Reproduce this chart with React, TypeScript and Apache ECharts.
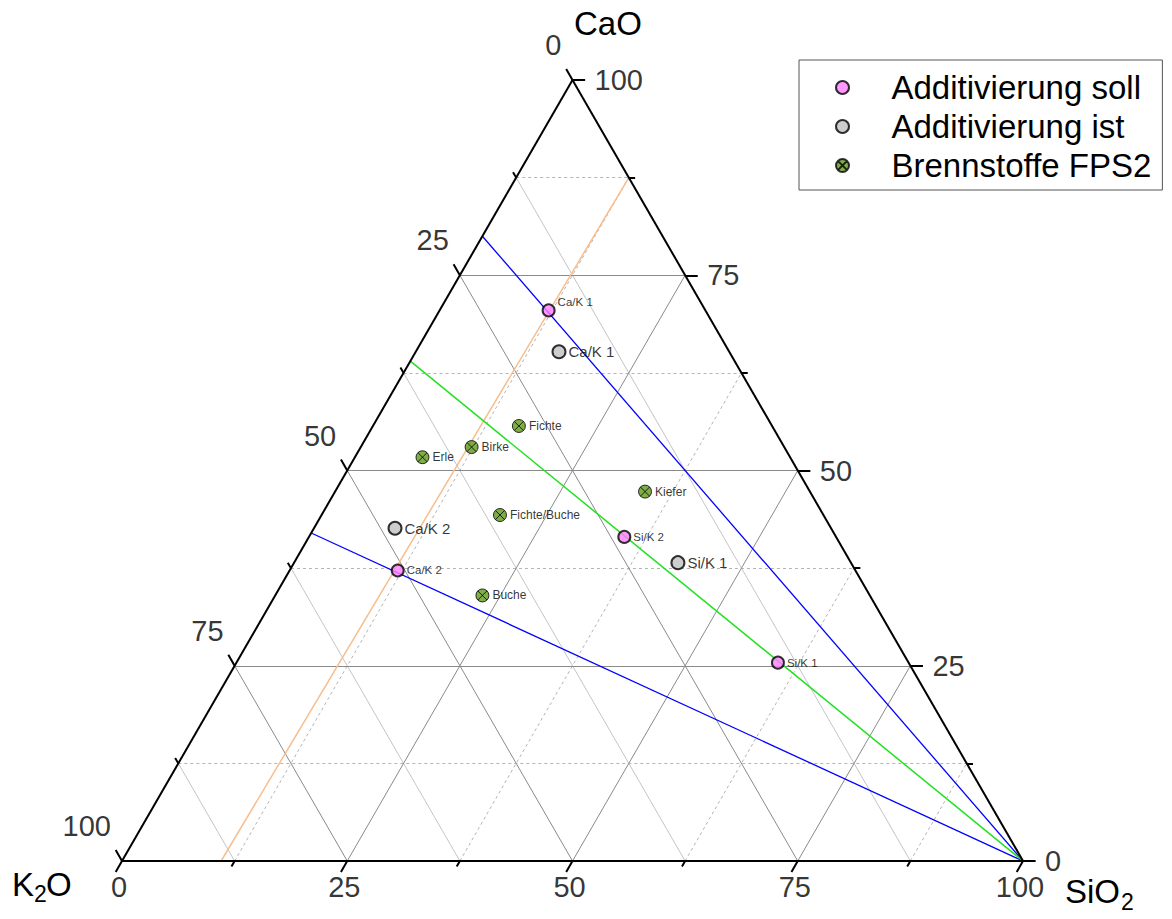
import React, { useEffect, useRef } from "react";
import * as echarts from "echarts";

// ---- data (values in %) ----
const majorValues = [0, 25, 50, 75, 100];
const majorLabels = ["0", "25", "50", "75", "100"];
const minorValues = [12.5, 37.5, 62.5, 87.5];
const innerMajor = [25, 50, 75];

const sollNames = ["Ca/K 1", "Ca/K 2", "Si/K 2", "Si/K 1"];
const sollSiO2 = [12.1, 12.0, 35.0, 60.1];
const sollCaO = [70.5, 37.2, 41.5, 25.4];
const sollK2O = [17.4, 50.8, 23.5, 14.5];

const istNames = ["Ca/K 1", "Ca/K 2", "Si/K 1"];
const istSiO2 = [15.9, 9.0, 42.6];
const istCaO = [65.2, 42.6, 38.2];
const istK2O = [18.9, 48.4, 19.2];

const fuelNames = ["Fichte", "Birke", "Erle", "Fichte/Buche", "Buche", "Kiefer"];
const fuelSiO2 = [16.2, 12.3, 7.5, 19.8, 23.0, 34.4];
const fuelCaO = [55.7, 53.0, 51.7, 44.3, 34.0, 47.3];
const fuelK2O = [28.1, 34.7, 40.8, 35.9, 43.0, 18.3];

// reference lines: endpoints as [SiO2, CaO]
const orangeLine = [[11.0, 0], [12.5, 87.5]];
const blueLine1 = [[100, 0], [0, 80]];
const blueLine2 = [[100, 0], [0, 42]];
const greenLine = [[100, 0], [0, 64]];

const FONT = "Liberation Sans, Arial, Helvetica, sans-serif";

// ternary (SiO2, CaO) -> cartesian (x = SiO2 + CaO/2, y = CaO)
const tern = (s: number, c: number) => [s + c / 2, c];
const pos = (s: number, c: number, k: number) => {
  const t = s + c + k;
  return tern((s / t) * 100, (c / t) * 100);
};
const seg = (a: number[], b: number[]) => ({ coords: [tern(a[0], a[1]), tern(b[0], b[1])] });

const caoLine = (v: number) => seg([0, v], [100 - v, v]);
const sio2Line = (v: number) => seg([v, 0], [v, 100 - v]);
const k2oLine = (v: number) => seg([100 - v, 0], [0, 100 - v]);

const TMAJ = 1.4;
const TMIN = 0.7;
const ticks = (vals: number[], t: number) => [
  ...vals.map((v) => seg([v, 0], [v, -t])), // SiO2 bottom
  ...vals.map((v) => seg([100 - v, v], [100 - v + t, v])), // CaO right
  ...vals.map((v) => seg([0, 100 - v], [-t, 100 - v + t])), // K2O left
];

const linesSeries = (data: any[], lineStyle: any, z: number) => ({
  type: "lines",
  coordinateSystem: "cartesian2d",
  polyline: false,
  clip: false,
  silent: true,
  z,
  lineStyle: { opacity: 1, curveness: 0, ...lineStyle },
  data,
});

const greenSymbol =
  "path://M10,0 A10,10 0 1,1 10,20 A10,10 0 1,1 10,0 Z M2.93,2.93 L17.07,17.07 M17.07,2.93 L2.93,17.07";

export default function App() {
  const ref = useRef<HTMLDivElement>(null);
  useEffect(() => {
    if (!ref.current) return;
    const chart = echarts.init(ref.current, undefined, { renderer: "svg" });
    const dotted = { color: "#b4b4b4", width: 1, type: [3, 3] };
    const option: any = {
      animation: false,
      textStyle: { fontFamily: FONT },
      grid: { left: 122, top: 80, width: 901, height: 781, containLabel: false },
      xAxis: { type: "value", min: 0, max: 100, show: false },
      yAxis: { type: "value", min: 0, max: 100, show: false },
      legend: {
        orient: "vertical",
        left: 799,
        top: 60,
        padding: [11, 11, 8, 36],
        itemGap: 6,
        itemWidth: 88,
        itemHeight: 13,
        borderColor: "#555",
        borderWidth: 1,
        textStyle: { fontSize: 33, fontFamily: FONT, color: "#000" },
        data: ["Additivierung soll", "Additivierung ist", "Brennstoffe FPS2"],
      },
      graphic: [
        { type: "text", left: 574, top: 7, style: { text: "CaO", font: `33px ${FONT}`, fill: "#000" } },
        { type: "text", left: 12, top: 868, style: { text: "K", font: `33px ${FONT}`, fill: "#000" } },
        { type: "text", left: 34, top: 882, style: { text: "2", font: `23px ${FONT}`, fill: "#000" } },
        { type: "text", left: 46, top: 868, style: { text: "O", font: `33px ${FONT}`, fill: "#000" } },
        { type: "text", left: 1065, top: 875, style: { text: "SiO", font: `33px ${FONT}`, fill: "#000" } },
        { type: "text", left: 1121, top: 890, style: { text: "2", font: `23px ${FONT}`, fill: "#000" } },
      ],
      series: [
        // minor grid
        linesSeries([...minorValues.map(caoLine), ...minorValues.map(sio2Line)], dotted, 1),
        linesSeries(minorValues.map(k2oLine), { color: "#c4c4c4", width: 1, type: "solid" }, 1),
        // major grid
        linesSeries(
          [...innerMajor.map(caoLine), ...innerMajor.map(sio2Line), ...innerMajor.map(k2oLine)],
          { color: "#8a8a8a", width: 1, type: "solid" },
          2
        ),
        // reference lines
        linesSeries([seg(orangeLine[0], orangeLine[1])], { color: "#f8bd8c", width: 1.5 }, 3),
        linesSeries(
          [seg(blueLine1[0], blueLine1[1]), seg(blueLine2[0], blueLine2[1])],
          { color: "#0000ff", width: 1.3 },
          3
        ),
        linesSeries([seg(greenLine[0], greenLine[1])], { color: "#22e022", width: 1.5 }, 3),
        // triangle edges + ticks
        linesSeries(
          [seg([0, 0], [100, 0]), seg([100, 0], [0, 100]), seg([0, 100], [0, 0]), ...ticks(majorValues, TMAJ), ...ticks(minorValues, TMIN)],
          { color: "#000", width: 2 },
          5
        ),
        // tick labels
        {
          type: "scatter",
          name: "lblBottom",
          silent: true,
          clip: false,
          symbolSize: 1,
          itemStyle: { color: "rgba(0,0,0,0)" },
          data: majorValues.map((v, i) => ({ name: majorLabels[i], value: tern(v, 0) })),
          label: {
            show: true,
            formatter: "{b}",
            position: "inside",
            align: "center",
            verticalAlign: "middle",
            offset: [-3, 26],
            fontSize: 29,
            color: "#000",
            fontFamily: FONT,
          },
        },
        {
          type: "scatter",
          name: "lblRight",
          silent: true,
          clip: false,
          symbolSize: 1,
          itemStyle: { color: "rgba(0,0,0,0)" },
          data: majorValues.map((v, i) => ({ name: majorLabels[i], value: tern(100 - v, v) })),
          label: {
            show: true,
            formatter: "{b}",
            position: "inside",
            align: "left",
            verticalAlign: "middle",
            offset: [22, 0],
            fontSize: 29,
            color: "#000",
            fontFamily: FONT,
          },
        },
        {
          type: "scatter",
          name: "lblLeft",
          silent: true,
          clip: false,
          symbolSize: 1,
          itemStyle: { color: "rgba(0,0,0,0)" },
          data: majorValues.map((v, i) => ({ name: majorLabels[i], value: tern(0, 100 - v) })),
          label: {
            show: true,
            formatter: "{b}",
            position: "inside",
            align: "right",
            verticalAlign: "middle",
            offset: [-11, -35],
            fontSize: 29,
            color: "#000",
            fontFamily: FONT,
          },
        },
        // data points
        {
          type: "scatter",
          name: "Brennstoffe FPS2",
          clip: false,
          z: 10,
          symbol: greenSymbol,
          symbolSize: 13,
          symbolKeepAspect: true,
          itemStyle: { color: "#5f9a1c", borderColor: "#000", borderWidth: 1 },
          data: fuelNames.map((n, i) => ({ name: n, value: pos(fuelSiO2[i], fuelCaO[i], fuelK2O[i]) })),
          label: { show: true, position: "right", distance: 3, formatter: "{b}", fontSize: 12, color: "#000", fontFamily: FONT },
        },
        {
          type: "scatter",
          name: "Additivierung ist",
          clip: false,
          z: 10,
          symbol: "circle",
          symbolSize: 13,
          symbolKeepAspect: true,
          itemStyle: { color: "#c0c0c0", borderColor: "#000", borderWidth: 2 },
          data: istNames.map((n, i) => ({ name: n, value: pos(istSiO2[i], istCaO[i], istK2O[i]) })),
          label: { show: true, position: "right", distance: 2, formatter: "{b}", fontSize: 15, color: "#000", fontFamily: FONT },
        },
        {
          type: "scatter",
          name: "Additivierung soll",
          clip: false,
          z: 11,
          symbol: "circle",
          symbolSize: 12,
          symbolKeepAspect: true,
          itemStyle: { color: "#ff80ff", borderColor: "#000", borderWidth: 2 },
          data: sollNames.map((n, i) => ({
            name: n,
            value: pos(sollSiO2[i], sollCaO[i], sollK2O[i]),
            label: i === 0 ? { offset: [0, -8] } : undefined,
          })),
          label: { show: true, position: "right", distance: 2, formatter: "{b}", fontSize: 11.5, color: "#000", fontFamily: FONT },
        },
      ],
    };
    chart.setOption(option);
    return () => chart.dispose();
  }, []);
  return (
    <div
      ref={ref}
      style={{ position: "absolute", left: 0, top: 0, width: 1172, height: 919, background: "#fff" }}
    />
  );
}
